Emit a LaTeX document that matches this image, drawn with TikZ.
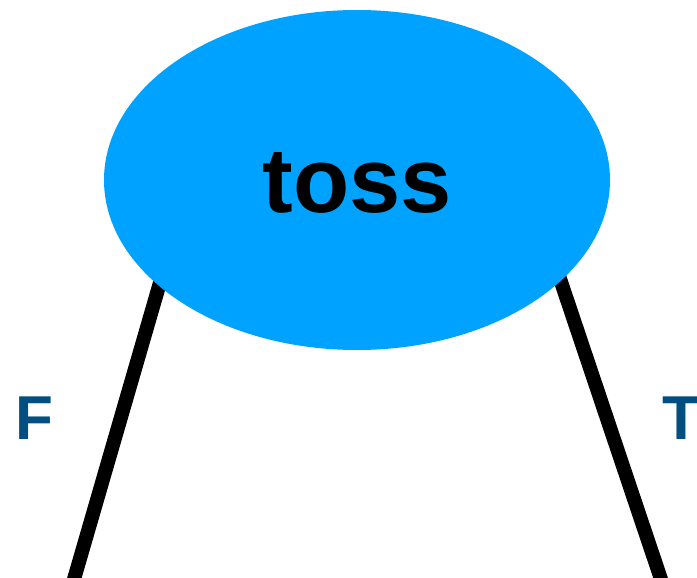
\documentclass[tikz,border=0pt]{standalone}
\usepackage{fontspec}
\setmainfont{Liberation Sans}
\usetikzlibrary{shapes.geometric}
\definecolor{tossblue}{HTML}{00A2FF}
\definecolor{labelblue}{HTML}{004F80}
\begin{document}
\begin{tikzpicture}[x=1pt,y=-1pt,
  branch/.style={line width=14pt,black},
  lbl/.style={text=labelblue,font=\fontsize{62}{70}\selectfont\bfseries,inner sep=0pt}]
\useasboundingbox (0,0) rectangle (697,578);
\clip (0,0) rectangle (697,578);
\coordinate (ltop) at (168,255);
\coordinate (lbot) at (68,600);
\coordinate (rtop) at (553,258);
\coordinate (rbot) at (668,600);
\draw[branch] (ltop) -- (lbot);
\draw[branch] (rtop) -- (rbot);
\node[ellipse,fill=tossblue,minimum width=506pt,minimum height=340pt,inner sep=0pt] (toss) at (357,180) {};
\node[font=\fontsize{92}{100}\selectfont\bfseries,inner sep=0pt] (tosstext) at (357,183) {toss};
\node[lbl] (F) at (34,418) {F};
\node[lbl] (T) at (681,418) {T};
\end{tikzpicture}
\end{document}
